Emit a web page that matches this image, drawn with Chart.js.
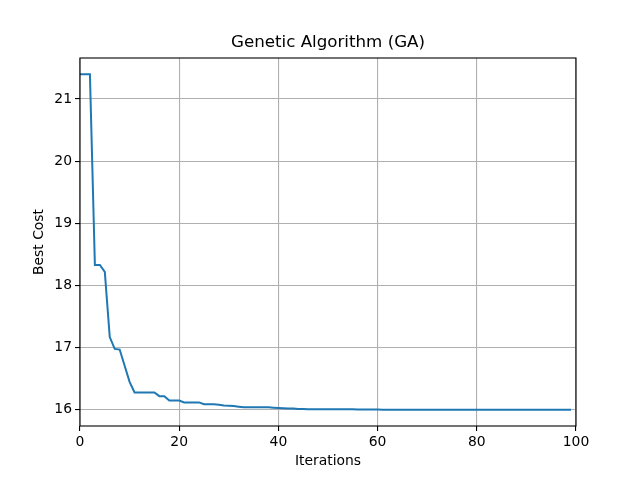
<!DOCTYPE html>
<html>
<head>
<meta charset="utf-8">
<script src="https://cdn.jsdelivr.net/npm/chart.js@4/dist/chart.umd.min.js"></script>
<style>
  html, body { margin: 0; padding: 0; background: #fff; }
</style>
</head>
<body>
<canvas id="gaChart" width="640" height="480"></canvas>
<script>
// Best cost per iteration
const bestCost = [
    21.40, 21.40, 21.40, 18.33, 18.33, 18.22, 17.17, 16.98, 16.97, 16.71,
    16.45, 16.28, 16.28, 16.28, 16.28, 16.28, 16.22, 16.22, 16.15, 16.15,
    16.15, 16.12, 16.12, 16.12, 16.12, 16.09, 16.09, 16.09, 16.08, 16.07,
    16.065, 16.06, 16.05, 16.04, 16.04, 16.04, 16.04, 16.04, 16.04, 16.035,
    16.03, 16.025, 16.02, 16.02, 16.015, 16.015, 16.01, 16.01, 16.01, 16.01,
    16.01, 16.008, 16.008, 16.008, 16.008, 16.008, 16.005, 16.005, 16.005, 16.005,
    16.005, 16.003, 16.003, 16.003, 16.003, 16.003, 16.003, 16.003, 16.003, 16.003,
    16.003, 16.003, 16.003, 16.003, 16.003, 16.002, 16.002, 16.002, 16.002, 16.002,
    16.002, 16.002, 16.002, 16.002, 16.002, 16.002, 16.002, 16.002, 16.002, 16.002,
    16.002, 16.002, 16.002, 16.002, 16.002, 16.002, 16.002, 16.002, 16.002, 16.002
];
const xTicks = [0, 20, 40, 60, 80, 100];
const yTicks = [16, 17, 18, 19, 20, 21];
const titleText = 'Genetic Algorithm (GA)';

const points = bestCost.map(function(v, i) { return { x: i, y: v }; });

// Black box round the plot area, and the title centred over it (matplotlib style)
const frame = {
    id: 'frame',
    afterDraw: function(chart) {
        const a = chart.chartArea;
        const ctx = chart.ctx;
        ctx.save();
        ctx.strokeStyle = '#000';
        ctx.lineWidth = 1.1;
        ctx.strokeRect(a.left, a.top, a.right - a.left, a.bottom - a.top);
        ctx.fillStyle = '#000';
        ctx.font = '16.7px "DejaVu Sans", sans-serif';
        ctx.textAlign = 'center';
        ctx.textBaseline = 'middle';
        ctx.fillText(titleText, (a.left + a.right) / 2, 43);
        ctx.restore();
    }
};

Chart.defaults.font.family = '"DejaVu Sans", sans-serif';
Chart.defaults.color = '#000';

const ctx = document.getElementById('gaChart').getContext('2d');
new Chart(ctx, {
    type: 'line',
    data: {
        datasets: [{
            data: points,
            borderColor: '#1f77b4',
            borderWidth: 2,
            pointRadius: 0,
            tension: 0,
            fill: false
        }]
    },
    options: {
        responsive: false,
        animation: false,
        layout: { padding: { left: 0, right: 64, top: 58, bottom: 0 } },
        plugins: {
            legend: { display: false },
            tooltip: { enabled: false },
            title: { display: false }
        },
        scales: {
            x: {
                type: 'linear',
                min: 0,
                max: 100,
                afterBuildTicks: function(axis) {
                    axis.ticks = xTicks.map(function(v) { return { value: v }; });
                },
                afterFit: function(axis) { axis.height = 54; },
                ticks: { font: { size: 13.9 }, padding: 3, maxRotation: 0 },
                grid: { color: '#b0b0b0', lineWidth: 1.1, tickLength: 5, tickColor: '#000' },
                border: { display: false },
                title: {
                    display: true,
                    text: 'Iterations',
                    font: { size: 13.9 },
                    padding: { top: 0, bottom: 10 }
                }
            },
            y: {
                type: 'linear',
                min: 15.74,
                max: 21.66,
                afterBuildTicks: function(axis) {
                    axis.ticks = yTicks.map(function(v) { return { value: v }; });
                },
                afterFit: function(axis) { axis.width = 80; },
                ticks: { font: { size: 13.9 }, padding: 3 },
                grid: { color: '#b0b0b0', lineWidth: 1.1, tickLength: 5, tickColor: '#000' },
                border: { display: false },
                title: {
                    display: true,
                    text: 'Best Cost',
                    font: { size: 13.9 },
                    padding: { top: 31, bottom: 0 }
                }
            }
        }
    },
    plugins: [frame]
});
</script>
</body>
</html>
